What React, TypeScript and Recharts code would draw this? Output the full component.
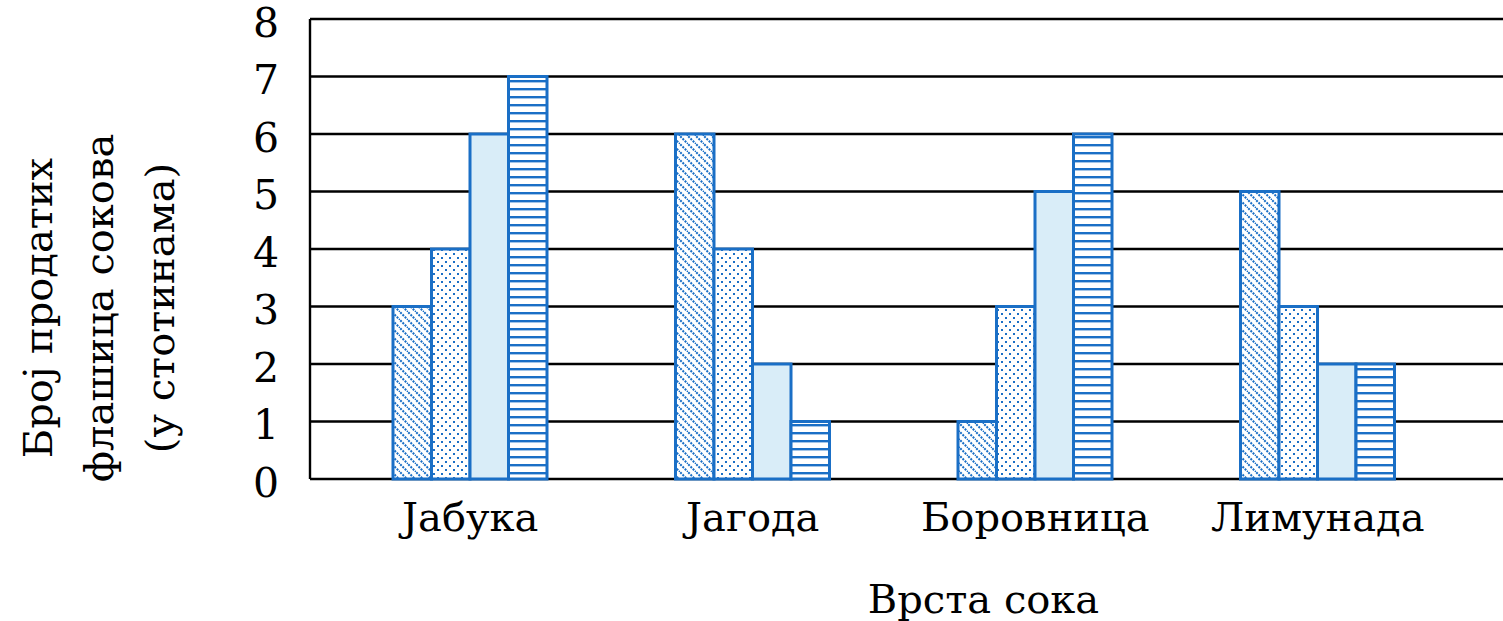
import React from 'react';
import { BarChart, Bar, XAxis, YAxis, CartesianGrid } from 'recharts';

const categories = ['Јабука', 'Јагода', 'Боровница', 'Лимунада'];
const series1 = [3, 6, 1, 5];
const series2 = [4, 4, 3, 3];
const series3 = [6, 2, 5, 2];
const series4 = [7, 1, 6, 2];
const yTicks = [0, 1, 2, 3, 4, 5, 6, 7, 8];
const xTitle = 'Врста сока';
const yTitleLines = ['Број продатих', 'флашица сокова', '(у стотинама)'];

const data = categories.map((c, i) => ({
  name: c,
  s1: series1[i],
  s2: series2[i],
  s3: series3[i],
  s4: series4[i],
}));

const BLUE = '#1a6fc6';
const FONT = '"DejaVu Serif", serif';
const FS = 40;

const YTitle = () => (
  <g>
    {yTitleLines.map((t, i) => (
      <text
        key={i}
        x={0}
        y={0}
        transform={`translate(${38 + i * 61}, 308) rotate(-90)`}
        textAnchor="middle"
        dominantBaseline="central"
        fontFamily={FONT}
        fontSize={FS}
        fill="#000"
      >
        {t}
      </text>
    ))}
  </g>
);

export default function App() {
  return (
    <div style={{ position: 'absolute', left: 0, top: 0 }}>
      <BarChart
        width={1503}
        height={621}
        data={data}
        margin={{ top: 19, right: 0, left: 0, bottom: 0 }}
        barGap={0}
        barSize={38.5}
      >
        <defs>
          <pattern id="pDiag" patternUnits="userSpaceOnUse" width="8" height="8">
            <rect width="8" height="8" fill="#fff" />
            <path d="M-2,-2 L10,10 M-2,6 L2,10 M6,-2 L10,2" stroke={BLUE} strokeWidth="2" strokeDasharray="2 1.2" />
          </pattern>
          <pattern id="pDots" patternUnits="userSpaceOnUse" width="8" height="8">
            <rect width="8" height="8" fill="#fff" />
            <rect x="1" y="1" width="2" height="2" fill={BLUE} />
            <rect x="5" y="5" width="2" height="2" fill={BLUE} />
          </pattern>
          <pattern id="pHoriz" patternUnits="userSpaceOnUse" width="8" height="8">
            <rect width="8" height="8" fill="#fff" />
            <rect x="0" y="0" width="8" height="2.4" fill={BLUE} />
          </pattern>
        </defs>
        <CartesianGrid vertical={false} stroke="#000" strokeWidth={2.4} />
        <XAxis
          dataKey="name"
          height={142}
          axisLine={false}
          tickLine={false}
          padding={{ left: 19, right: 44 }}
          tickMargin={18}
          tick={{ fill: '#000', fontFamily: FONT, fontSize: FS }}
          interval={0}
          label={{
            value: xTitle,
            position: 'insideBottom',
            offset: 8,
            dx: 77,
            fill: '#000',
            fontFamily: FONT,
            fontSize: FS,
          }}
        />
        <YAxis
          width={310}
          domain={[0, 8]}
          ticks={yTicks}
          interval={0}
          axisLine={{ stroke: '#000', strokeWidth: 2.4 }}
          tickLine={false}
          tickMargin={25}
          tick={{ fill: '#000', fontFamily: FONT, fontSize: 41, dy: 3 }}
          label={<YTitle />}
        />
        <Bar dataKey="s1" fill="url(#pDiag)" stroke={BLUE} strokeWidth={3} isAnimationActive={false} />
        <Bar dataKey="s2" fill="url(#pDots)" stroke={BLUE} strokeWidth={3} isAnimationActive={false} />
        <Bar dataKey="s3" fill="#d9edf8" stroke={BLUE} strokeWidth={3} isAnimationActive={false} />
        <Bar dataKey="s4" fill="url(#pHoriz)" stroke={BLUE} strokeWidth={3} isAnimationActive={false} />
      </BarChart>
    </div>
  );
}
